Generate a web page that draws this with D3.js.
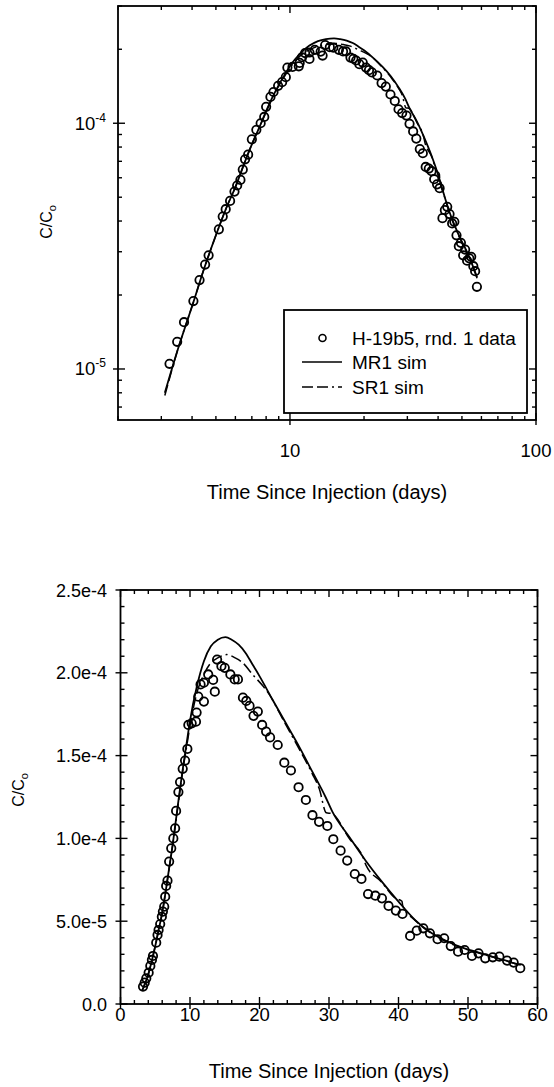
<!DOCTYPE html>
<html>
<head>
<meta charset="utf-8">
<script src="https://cdn.jsdelivr.net/npm/d3@7"></script>
<style>
body { margin: 0; background: #fff; }
svg text { font-family: "Liberation Sans", Arial, Helvetica, sans-serif; fill: #000; }
</style>
</head>
<body>
<svg id="chart" width="554" height="1087"></svg>
<script>
// measured data, H-19b5 rnd. 1
const days = [3.24,3.48,3.71,4.05,4.29,4.52,4.67,5.14,5.33,5.48,
  5.71,5.95,6.1,6.29,6.43,6.57,6.76,7.0,7.3,7.6,
  7.86,8.0,8.33,8.57,8.95,9.29,9.62,9.76,10.24,10.86,
  10.95,11.19,11.52,12.0,12.0,12.62,13.33,13.57,13.9,14.52,
  15.0,15.81,16.43,16.9,17.62,18.1,18.57,19.14,19.76,20.38,
  20.95,21.52,22.62,23.57,24.52,25.62,26.67,27.62,28.57,29.76,
  30.62,31.67,32.62,33.71,34.67,35.62,36.67,37.62,38.57,39.62,
  40.57,41.67,42.62,43.57,44.52,45.62,46.57,47.52,48.57,49.52,
  50.57,51.52,52.48,53.57,54.52,55.62,56.57,57.52];
const conc = [1.05e-5,1.29e-5,1.55e-5,1.89e-5,2.3e-5,2.66e-5,2.9e-5,3.7e-5,4.17e-5,4.47e-5,
  4.83e-5,5.27e-5,5.58e-5,5.88e-5,6.48e-5,7.13e-5,7.45e-5,8.6e-5,9.4e-5,1.0e-4,
  1.061e-4,1.166e-4,1.28e-4,1.34e-4,1.42e-4,1.47e-4,1.54e-4,1.685e-4,1.695e-4,1.705e-4,
  1.76e-4,1.856e-4,1.93e-4,1.826e-4,1.94e-4,1.99e-4,1.957e-4,1.886e-4,2.08e-4,2.04e-4,
  2.03e-4,1.99e-4,1.96e-4,1.96e-4,1.85e-4,1.83e-4,1.80e-4,1.74e-4,1.766e-4,1.685e-4,
  1.645e-4,1.61e-4,1.564e-4,1.457e-4,1.41e-4,1.309e-4,1.232e-4,1.14e-4,1.10e-4,1.075e-4,
  0.995e-4,0.926e-4,0.866e-4,0.785e-4,0.755e-4,0.664e-4,0.654e-4,0.638e-4,0.592e-4,0.564e-4,
  0.544e-4,0.411e-4,0.443e-4,0.457e-4,0.427e-4,0.391e-4,0.397e-4,0.35e-4,0.316e-4,0.326e-4,
  0.29e-4,0.306e-4,0.276e-4,0.282e-4,0.286e-4,0.262e-4,0.25e-4,0.216e-4];

// MR1 simulation (solid)
const mr1Days = [3.1,3.5,4,4.5,5,5.5,6,6.5,7,7.5,8,8.5,9,9.5,10,11,12,13,14,15.1,
  16,17,18,19,20,21.9,23.8,25.7,27.6,29.5,30.5,32.9,35.2,37.6,40,42.4,44.8,47.1,49.5,51.9,
  54.3,56.7,57.6];
const mr1Conc = [8e-6,1.2e-5,1.8e-5,2.6e-5,3.5e-5,4.5e-5,5.5e-5,6.8e-5,8.2e-5,9.6e-5,
  1.12e-4,1.28e-4,1.43e-4,1.57e-4,1.71e-4,1.92e-4,2.07e-4,2.16e-4,2.2e-4,2.215e-4,
  2.2e-4,2.17e-4,2.12e-4,2.05e-4,1.98e-4,1.836e-4,1.695e-4,1.554e-4,1.403e-4,1.25e-4,
  1.16e-4,1.01e-4,0.87e-4,0.739e-4,0.618e-4,0.507e-4,0.427e-4,0.376e-4,0.336e-4,0.306e-4,
  0.276e-4,0.246e-4,0.236e-4];

// SR1 simulation (dash-dot)
const sr1Days = [3.1,3.5,4,4.5,5,5.5,6,6.5,7,7.5,8,8.5,9,9.5,10,11,12,13,14,15.3,
  16.5,17.6,19,20.5,21.4,22.9,24,25.7,27.6,28.6,29.6,30.4,32.9,35.0,35.3,37.6,39.5,40.5,40.6,42.4,
  44.8,47.1,49.5,51.9,54.3,56.7,57.6];
const sr1Conc = [7.8e-6,1.2e-5,1.8e-5,2.6e-5,3.5e-5,4.5e-5,5.5e-5,6.8e-5,8.2e-5,9.6e-5,
  1.11e-4,1.27e-4,1.42e-4,1.55e-4,1.68e-4,1.88e-4,1.99e-4,2.06e-4,2.09e-4,2.11e-4,
  2.09e-4,2.06e-4,1.99e-4,1.92e-4,1.87e-4,1.756e-4,1.67e-4,1.54e-4,1.39e-4,1.3e-4,
  1.155e-4,1.15e-4,1.0e-4,0.875e-4,0.84e-4,0.735e-4,0.64e-4,0.62e-4,0.595e-4,0.505e-4,
  0.425e-4,0.372e-4,0.334e-4,0.304e-4,0.275e-4,0.245e-4,0.234e-4];

// axis ticks and labels
const logXTicks = [10, 100];
const logXLabels = ["10", "100"];
const logYTicks = [1e-5, 1e-4];
const logYExp = ["-5", "-4"];
const linXTicks = [0, 10, 20, 30, 40, 50, 60];
const linYTicks = [0, 5e-5, 1e-4, 1.5e-4, 2e-4, 2.5e-4];
const linYLabels = ["0.0", "5.0e-5", "1.0e-4", "1.5e-4", "2.0e-4", "2.5e-4"];
const legendLabels = ["H-19b5, rnd. 1 data", "MR1 sim", "SR1 sim"];
const xTitle = "Time Since Injection (days)";

const svg = d3.select("#chart");
const dashStyle = "11,4,11,4,2,4";

const pts = days.map((d, i) => ({ t: d, c: conc[i] }));
const mr1 = mr1Days.map((d, i) => ({ t: d, c: mr1Conc[i] }));
const sr1 = sr1Days.map((d, i) => ({ t: d, c: sr1Conc[i] }));

function drawTicks(g, scale, vals, side, box, inner, outer) {
  vals.forEach(v => {
    const p = scale(v);
    let x1, x2, y1, y2;
    if (side === "bottom") { x1 = x2 = p; y1 = box.y1 + outer; y2 = box.y1 - inner; }
    if (side === "top") { x1 = x2 = p; y1 = box.y0 - outer; y2 = box.y0 + inner; }
    if (side === "left") { y1 = y2 = p; x1 = box.x0 - outer; x2 = box.x0 + inner; }
    if (side === "right") { y1 = y2 = p; x1 = box.x1 + outer; x2 = box.x1 - inner; }
    g.append("line")
      .attr("x1", x1).attr("x2", x2).attr("y1", y1).attr("y2", y2)
      .attr("stroke", "#000").attr("stroke-width", 1.4);
  });
}

function drawFrame(g, box) {
  g.append("rect")
    .attr("x", box.x0).attr("y", box.y0)
    .attr("width", box.x1 - box.x0).attr("height", box.y1 - box.y0)
    .attr("fill", "none").attr("stroke", "#000").attr("stroke-width", 1.8);
}

function drawSeries(g, x, y) {
  const line = d3.line().x(d => x(d.t)).y(d => y(d.c)).curve(d3.curveMonotoneX);
  g.append("path").datum(mr1).attr("d", line)
    .attr("fill", "none").attr("stroke", "#000").attr("stroke-width", 1.8);
  g.append("path").datum(sr1).attr("d", line)
    .attr("fill", "none").attr("stroke", "#000").attr("stroke-width", 1.5)
    .attr("stroke-dasharray", dashStyle);
  g.selectAll("circle.pt").data(pts).enter().append("circle")
    .attr("class", "pt")
    .attr("cx", d => x(d.t)).attr("cy", d => y(d.c)).attr("r", 4.2)
    .attr("fill", "none").attr("stroke", "#000").attr("stroke-width", 1.8);
}

function yTitle(g, x, y) {
  const t = g.append("text")
    .attr("transform", `translate(${x},${y}) rotate(-90)`)
    .attr("text-anchor", "middle").style("font-size", "16px");
  t.append("tspan").text("C/C");
  t.append("tspan").text("o").style("font-size", "11px").attr("dy", 4);
}

// ---------- top: log-log ----------
const topBox = { x0: 118, x1: 536, y0: 6, y1: 420 };
const xLog = d3.scaleLog().domain([2, 100]).range([topBox.x0, topBox.x1]);
const yLog = d3.scaleLog().domain([6.2e-6, 3e-4]).range([topBox.y1, topBox.y0]);
const gTop = svg.append("g");

drawSeries(gTop, xLog, yLog);

// legend
const leg = gTop.append("g");
leg.append("rect").attr("x", 284).attr("y", 310).attr("width", 243).attr("height", 103)
  .attr("fill", "#fff").attr("stroke", "#000").attr("stroke-width", 1.8);
leg.append("circle").attr("cx", 322.5).attr("cy", 338).attr("r", 3.5)
  .attr("fill", "none").attr("stroke", "#000").attr("stroke-width", 1.6);
leg.append("line").attr("x1", 302).attr("x2", 342).attr("y1", 362).attr("y2", 362)
  .attr("stroke", "#000").attr("stroke-width", 1.6);
leg.append("line").attr("x1", 302).attr("x2", 342).attr("y1", 387).attr("y2", 387)
  .attr("stroke", "#000").attr("stroke-width", 1.4).attr("stroke-dasharray", dashStyle);
legendLabels.forEach((s, i) => {
  leg.append("text").attr("x", 352).attr("y", 344.5 + i * 24.5)
    .style("font-size", "19px").text(s);
});

drawFrame(gTop, topBox);
const xLogMinor = xLog.ticks().filter(v => logXTicks.indexOf(v) < 0);
const yLogMinor = yLog.ticks().filter(v => logYTicks.indexOf(v) < 0);
drawTicks(gTop, xLog, logXTicks, "bottom", topBox, 7, 5);
drawTicks(gTop, xLog, logXTicks, "top", topBox, 7, 0);
drawTicks(gTop, xLog, xLogMinor, "bottom", topBox, 4, 0);
drawTicks(gTop, xLog, xLogMinor, "top", topBox, 4, 0);
drawTicks(gTop, yLog, logYTicks, "left", topBox, 7, 5);
drawTicks(gTop, yLog, logYTicks, "right", topBox, 7, 0);
drawTicks(gTop, yLog, yLogMinor, "left", topBox, 4, 0);
drawTicks(gTop, yLog, yLogMinor, "right", topBox, 4, 0);

logXTicks.forEach((v, i) => {
  gTop.append("text").attr("x", xLog(v)).attr("y", 457)
    .attr("text-anchor", "middle").style("font-size", "18.5px").text(logXLabels[i]);
});
logYTicks.forEach((v, i) => {
  const t = gTop.append("text").attr("x", 106).attr("y", yLog(v) + 6.5)
    .attr("text-anchor", "end").style("font-size", "18.5px");
  t.append("tspan").text("10");
  t.append("tspan").text(logYExp[i]).style("font-size", "12px").attr("dy", -8);
});
gTop.append("text").attr("x", (topBox.x0 + topBox.x1) / 2).attr("y", 499)
  .attr("text-anchor", "middle").style("font-size", "20px").text(xTitle);
yTitle(gTop, 52, 222);

// ---------- bottom: linear ----------
const botBox = { x0: 120.5, x1: 537.5, y0: 590, y1: 1004 };
const xLin = d3.scaleLinear().domain([0, 60]).range([botBox.x0, botBox.x1]);
const yLin = d3.scaleLinear().domain([0, 2.5e-4]).range([botBox.y1, botBox.y0]);
const gBot = svg.append("g");

drawSeries(gBot, xLin, yLin);
drawFrame(gBot, botBox);

const xLinMinor = d3.range(0, 61, 2).filter(v => v % 10 !== 0);
const yLinMinor = d3.range(0, 26).filter(v => v % 5 !== 0).map(v => v * 1e-5);
drawTicks(gBot, xLin, linXTicks, "bottom", botBox, 7, 5);
drawTicks(gBot, xLin, linXTicks, "top", botBox, 7, 0);
drawTicks(gBot, xLin, xLinMinor, "bottom", botBox, 4, 0);
drawTicks(gBot, xLin, xLinMinor, "top", botBox, 4, 0);
drawTicks(gBot, yLin, linYTicks, "left", botBox, 7, 5);
drawTicks(gBot, yLin, linYTicks, "right", botBox, 7, 0);
drawTicks(gBot, yLin, yLinMinor, "left", botBox, 4, 0);
drawTicks(gBot, yLin, yLinMinor, "right", botBox, 4, 0);

linXTicks.forEach(v => {
  gBot.append("text").attr("x", xLin(v)).attr("y", 1021)
    .attr("text-anchor", "middle").style("font-size", "18.5px").text(v);
});
linYTicks.forEach((v, i) => {
  gBot.append("text").attr("x", 107).attr("y", yLin(v) + 6.5)
    .attr("text-anchor", "end").style("font-size", "18px").text(linYLabels[i]);
});
gBot.append("text").attr("x", (botBox.x0 + botBox.x1) / 2).attr("y", 1078)
  .attr("text-anchor", "middle").style("font-size", "20px").text(xTitle);
yTitle(gBot, 24, 790);
</script>
</body>
</html>
